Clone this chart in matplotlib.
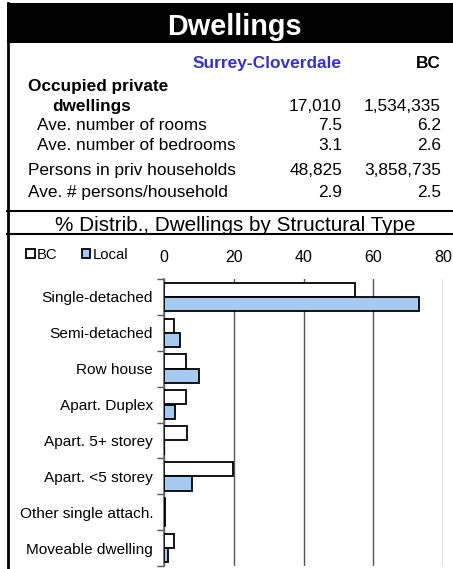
import matplotlib
matplotlib.use("Agg")
import matplotlib.pyplot as plt
from matplotlib.patches import Rectangle, Patch
from matplotlib.lines import Line2D
import numpy as np

plt.rcParams['font.family'] = ['Liberation Sans', 'DejaVu Sans']

# ---- data ----
title = "Dwellings"
col_local = "Surrey-Cloverdale"
col_bc = "BC"
row_labels = ["dwellings", "Ave. number of rooms", "Ave. number of bedrooms",
              "Persons in priv households", "Ave. # persons/household"]
local_vals = ["17,010", "7.5", "3.1", "48,825", "2.9"]
bc_vals = ["1,534,335", "6.2", "2.6", "3,858,735", "2.5"]

chart_title = "% Distrib., Dwellings by Structural Type"
categories = ["Single-detached", "Semi-detached", "Row house", "Apart. Duplex",
              "Apart. 5+ storey", "Apart. <5 storey", "Other single attach.",
              "Moveable dwelling"]
bc_pct = [54.9, 2.9, 6.3, 6.3, 6.6, 19.6, 0.3, 2.8]
local_pct = [73.2, 4.6, 9.9, 3.0, 0.0, 7.9, 0.1, 1.2]
xticks = [0, 20, 40, 60, 80]

W, H = 453, 569
fig = plt.figure(figsize=(W / 100, H / 100), dpi=100)

def fx(px):
    return px / W

def fy(py):
    return 1 - py / H

# header bar
fig.patches.append(Rectangle((fx(7), fy(42.7)), fx(453) - fx(7), fy(3) - fy(42.7),
                             transform=fig.transFigure, facecolor='black',
                             edgecolor='none', zorder=0))
# left border
fig.add_artist(Line2D([fx(7.5), fx(7.5)], [fy(3), fy(569)], transform=fig.transFigure,
                      color='black', lw=2))
# horizontal separators
for yy in (211, 234):
    fig.add_artist(Line2D([fx(7), fx(453)], [fy(yy), fy(yy)], transform=fig.transFigure,
                          color='black', lw=1.5))

fig.text(fx(234), fy(35), title, color='white', fontsize=20.8, fontweight='bold',
         ha='center', va='baseline')

fs = 12.4
fig.text(fx(342), fy(67.7), col_local, color='#3333CC', fontsize=fs, fontweight='bold',
         ha='right', va='baseline')
fig.text(fx(441), fy(67.7), col_bc, color='black', fontsize=fs, fontweight='bold',
         ha='right', va='baseline')
fig.text(fx(28), fy(91.5), "Occupied private", fontsize=fs, fontweight='bold',
         ha='left', va='baseline')

row_x = [52, 37, 37, 28, 28]
row_y = [111, 130, 150, 175, 197]
row_bold = [True, False, False, False, False]
for lab, lv, bv, xx, yy, b in zip(row_labels, local_vals, bc_vals, row_x, row_y, row_bold):
    fig.text(fx(xx), fy(yy), lab, fontsize=fs, fontweight='bold' if b else 'normal',
             ha='left', va='baseline')
    fig.text(fx(342), fy(yy), lv, fontsize=fs, ha='right', va='baseline')
    fig.text(fx(441), fy(yy), bv, fontsize=fs, ha='right', va='baseline')

fig.text(fx(235), fy(230.7), chart_title, fontsize=14.9, ha='center', va='baseline')

# ---- bar chart ----
ax_l, ax_r, ax_t, ax_b = 164.3, 442.7, 279, 566
ax = fig.add_axes([fx(ax_l), fy(ax_b), fx(ax_r) - fx(ax_l), fy(ax_t) - fy(ax_b)])
y = np.arange(len(categories))
h = 0.395
ax.barh(y - 0.2, bc_pct, height=h, color='white', edgecolor='black', lw=1.3,
        label='BC', zorder=3)
ax.barh(y + 0.2, local_pct, height=h, color='#A6CAF0', edgecolor='black', lw=1.3,
        label='Local', zorder=3)
ax.set_xlim(0, 80)
ax.set_ylim(len(categories) - 0.5, -0.5)
ax.set_xticks(xticks)
ax.xaxis.tick_top()
ax.tick_params(axis='x', length=0, pad=10, labelsize=11.5)
ax.grid(axis='x', color='#555555', lw=1, zorder=0)
ax.set_yticks(y)
ax.set_yticklabels(categories)
ax.tick_params(axis='y', which='major', length=0, pad=8, labelsize=11.1)
ax.set_yticks(np.arange(len(categories) + 1) - 0.5, minor=True)
ax.tick_params(axis='y', which='minor', length=5, color='#555555', width=1)
for s in ('top', 'bottom', 'right'):
    ax.spines[s].set_visible(False)
ax.spines['left'].set_color('#666666')
ax.spines['left'].set_linewidth(1.2)

handles = [Patch(facecolor='white', edgecolor='black', lw=1.3, label='BC'),
           Patch(facecolor='#A6CAF0', edgecolor='black', lw=1.3, label='Local')]
fig.legend(handles=handles, loc='center left', bbox_to_anchor=(fx(26), fy(255)),
           ncol=2, frameon=False, fontsize=10.7, handlelength=0.6, handleheight=0.6,
           handletextpad=0.15, columnspacing=1.6, borderpad=0, borderaxespad=0)

fig.savefig("out.png", dpi=100)
